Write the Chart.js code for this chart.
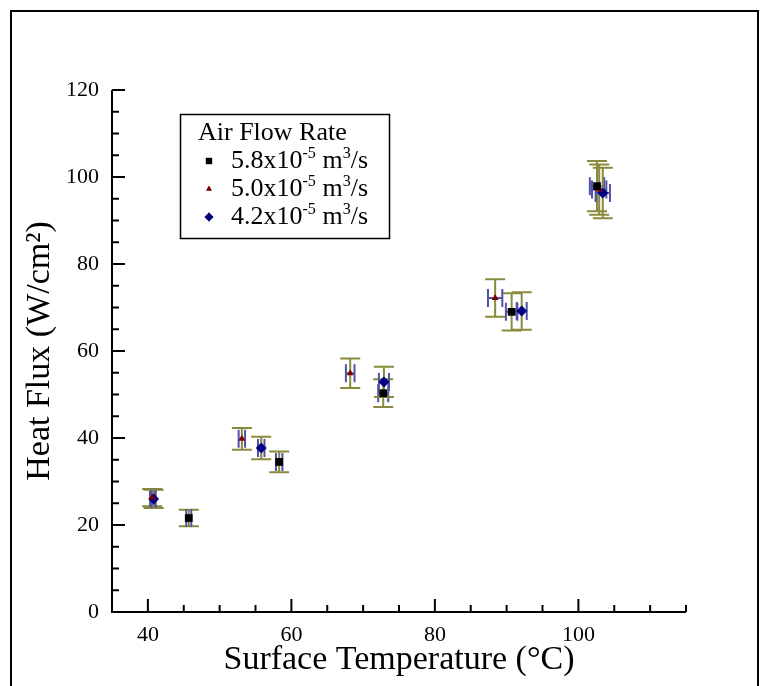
<!DOCTYPE html>
<html>
<head>
<meta charset="utf-8">
<script src="https://cdn.jsdelivr.net/npm/chart.js@4.4.0/dist/chart.umd.min.js"></script>
<style>
  body { margin: 0; background: #fff; overflow: hidden; }
  #frame { position: absolute; left: 10px; top: 10px; width: 745px; height: 700px; border: 2px solid #000; }
  #wrap { position: absolute; left: 0; top: 0; width: 768px; height: 686px; }
</style>
</head>
<body>
<div id="frame"></div>
<div id="wrap"><canvas id="chart"></canvas></div>
<script>
const SERIF = "'Liberation Serif', 'Times New Roman', serif";

// axis ranges and labelled ticks
const tempRange = [35, 115];
const fluxRange = [0, 120];
const xTickLabels = [40, 60, 80, 100];
const yTickLabels = [0, 20, 40, 60, 80, 100, 120];

const legendTitle = 'Air Flow Rate';
const seriesNames = ['5.8x10^-5 m^3/s', '5.0x10^-5 m^3/s', '4.2x10^-5 m^3/s'];

// 5.8e-5 m3/s
const tempA = [45.7, 58.3, 72.8, 90.7, 102.6];
const fluxA = [21.6, 34.5, 50.3, 69.0, 97.9];
const fluxErrA = [1.9, 2.4, 3.2, 4.3, 5.8];
const tempErrA = [0.35, 0.45, 0.7, 0.8, 1.0];

// 5.0e-5 m3/s
const tempB = [40.6, 53.1, 68.2, 88.4, 102.9];
const fluxB = [26.3, 39.8, 54.9, 72.2, 97.1];
const fluxErrB = [2.0, 2.5, 3.4, 4.3, 5.8];
const tempErrB = [0.3, 0.45, 0.6, 1.0, 1.0];

// 4.2e-5 m3/s
const tempC = [40.8, 55.8, 72.9, 92.1, 103.4];
const fluxC = [26.0, 37.7, 52.9, 69.2, 96.3];
const fluxErrC = [2.1, 2.6, 3.5, 4.3, 5.8];
const tempErrC = [0.3, 0.45, 0.7, 0.7, 1.0];

const toPoints = (xs, ys) => xs.map((x, i) => ({x: x, y: ys[i]}));

const datasets = [
  {label: seriesNames[0], data: toPoints(tempA, fluxA), xErr: tempErrA, yErr: fluxErrA,
   pointStyle: 'rect', pointRadius: 5.5, backgroundColor: '#000', borderColor: '#000', borderWidth: 0},
  {label: seriesNames[1], data: toPoints(tempB, fluxB), xErr: tempErrB, yErr: fluxErrB,
   pointStyle: 'triangle', pointRadius: 4, backgroundColor: '#800000', borderColor: '#800000', borderWidth: 0},
  {label: seriesNames[2], data: toPoints(tempC, fluxC), xErr: tempErrC, yErr: fluxErrC,
   pointStyle: 'rectRot', pointRadius: 5.5, backgroundColor: '#000080', borderColor: '#000080', borderWidth: 0}
];

// error bars, drawn under the markers
const errorBars = {
  id: 'errorBars',
  beforeDatasetsDraw(chart) {
    const ctx = chart.ctx, xs = chart.scales.x, ys = chart.scales.y;
    ctx.save();
    ctx.lineWidth = 2;
    chart.data.datasets.forEach(ds => {
      ds.data.forEach((p, i) => {
        const px = xs.getPixelForValue(p.x), py = ys.getPixelForValue(p.y);
        const top = ys.getPixelForValue(p.y + ds.yErr[i]);
        const bot = ys.getPixelForValue(p.y - ds.yErr[i]);
        ctx.strokeStyle = '#8a8a3c';
        ctx.beginPath();
        ctx.moveTo(px, top); ctx.lineTo(px, bot);
        ctx.moveTo(px - 10, top); ctx.lineTo(px + 10, top);
        ctx.moveTo(px - 10, bot); ctx.lineTo(px + 10, bot);
        ctx.stroke();
        const lft = xs.getPixelForValue(p.x - ds.xErr[i]);
        const rgt = xs.getPixelForValue(p.x + ds.xErr[i]);
        ctx.strokeStyle = '#5252a8';
        ctx.beginPath();
        ctx.moveTo(lft, py); ctx.lineTo(rgt, py);
        ctx.moveTo(lft, py - 9); ctx.lineTo(lft, py + 9);
        ctx.moveTo(rgt, py - 9); ctx.lineTo(rgt, py + 9);
        ctx.stroke();
      });
    });
    ctx.restore();
  }
};

// axis lines with inward ticks
const axes = {
  id: 'axes',
  afterDraw(chart) {
    const ctx = chart.ctx, a = chart.chartArea, xs = chart.scales.x, ys = chart.scales.y;
    ctx.save();
    ctx.strokeStyle = '#000';
    ctx.lineWidth = 2;
    ctx.beginPath();
    ctx.moveTo(a.left, a.top); ctx.lineTo(a.left, a.bottom); ctx.lineTo(a.right, a.bottom);
    xs.ticks.forEach(t => {
      if (t.value === tempRange[0]) return;
      const px = xs.getPixelForValue(t.value);
      const len = xTickLabels.includes(t.value) ? 13 : 7;
      ctx.moveTo(px, a.bottom); ctx.lineTo(px, a.bottom - len);
    });
    ys.ticks.forEach(t => {
      if (t.value === fluxRange[0]) return;
      const py = ys.getPixelForValue(t.value);
      const len = yTickLabels.includes(t.value) ? 13 : 7;
      ctx.moveTo(a.left, py); ctx.lineTo(a.left + len, py);
    });
    ctx.stroke();
    ctx.restore();
  }
};

// text with ^superscripts
function richText(ctx, text, x, y, size) {
  const parts = text.split(/\^(-?\d+)/);
  parts.forEach((s, i) => {
    const sup = i % 2 === 1;
    ctx.font = (sup ? size * 0.62 : size) + 'px ' + SERIF;
    ctx.fillText(s, x, sup ? y - size * 0.38 : y);
    x += ctx.measureText(s).width;
  });
}

const boxLegend = {
  id: 'boxLegend',
  afterDraw(chart) {
    const ctx = chart.ctx;
    ctx.save();
    ctx.strokeStyle = '#000';
    ctx.lineWidth = 1.5;
    ctx.strokeRect(180.5, 114.5, 209, 124);
    ctx.fillStyle = '#000';
    ctx.textBaseline = 'alphabetic';
    ctx.font = '26px ' + SERIF;
    ctx.fillText(legendTitle, 198, 140);
    chart.data.datasets.forEach((ds, i) => {
      const base = 168 + i * 28;
      Chart.helpers.drawPoint(ctx, {pointStyle: ds.pointStyle, radius: ds.pointRadius * 0.8, borderWidth: 0, rotation: 0},
        209, base - 7);
      ctx.fillStyle = ds.backgroundColor;
      ctx.fill();
      ctx.fillStyle = '#000';
      richText(ctx, ds.label, 231, base, 26);
    });
    ctx.restore();
  }
};

new Chart(document.getElementById('chart'), {
  type: 'scatter',
  data: {datasets: datasets},
  options: {
    responsive: true,
    maintainAspectRatio: false,
    animation: false,
    layout: {padding: {left: 0, right: 82, top: 90, bottom: 0}},
    plugins: {legend: {display: false}, tooltip: {enabled: false}},
    scales: {
      x: {
        type: 'linear', min: tempRange[0], max: tempRange[1],
        grid: {display: false}, border: {display: false},
        ticks: {stepSize: 5, autoSkip: false, maxRotation: 0, padding: 2, color: '#000',
                font: {family: SERIF, size: 22},
                callback: v => xTickLabels.includes(v) ? String(v) : ''},
        title: {display: true, text: 'Surface Temperature (\u00B0C)', color: '#000',
                font: {family: SERIF, size: 34}, padding: {top: 0, bottom: 6}},
        afterFit: s => { s.height = 74; }
      },
      y: {
        type: 'linear', min: fluxRange[0], max: fluxRange[1],
        grid: {display: false}, border: {display: false},
        ticks: {stepSize: 5, autoSkip: false, padding: 5, color: '#000',
                font: {family: SERIF, size: 22},
                callback: v => yTickLabels.includes(v) ? String(v) : ''},
        title: {display: true, text: 'Heat Flux (W/cm\u00B2)', color: '#000',
                font: {family: SERIF, size: 34}, padding: {top: 20, bottom: 0}},
        afterFit: s => { s.width = 112; }
      }
    }
  },
  plugins: [errorBars, axes, boxLegend]
});
</script>
</body>
</html>
